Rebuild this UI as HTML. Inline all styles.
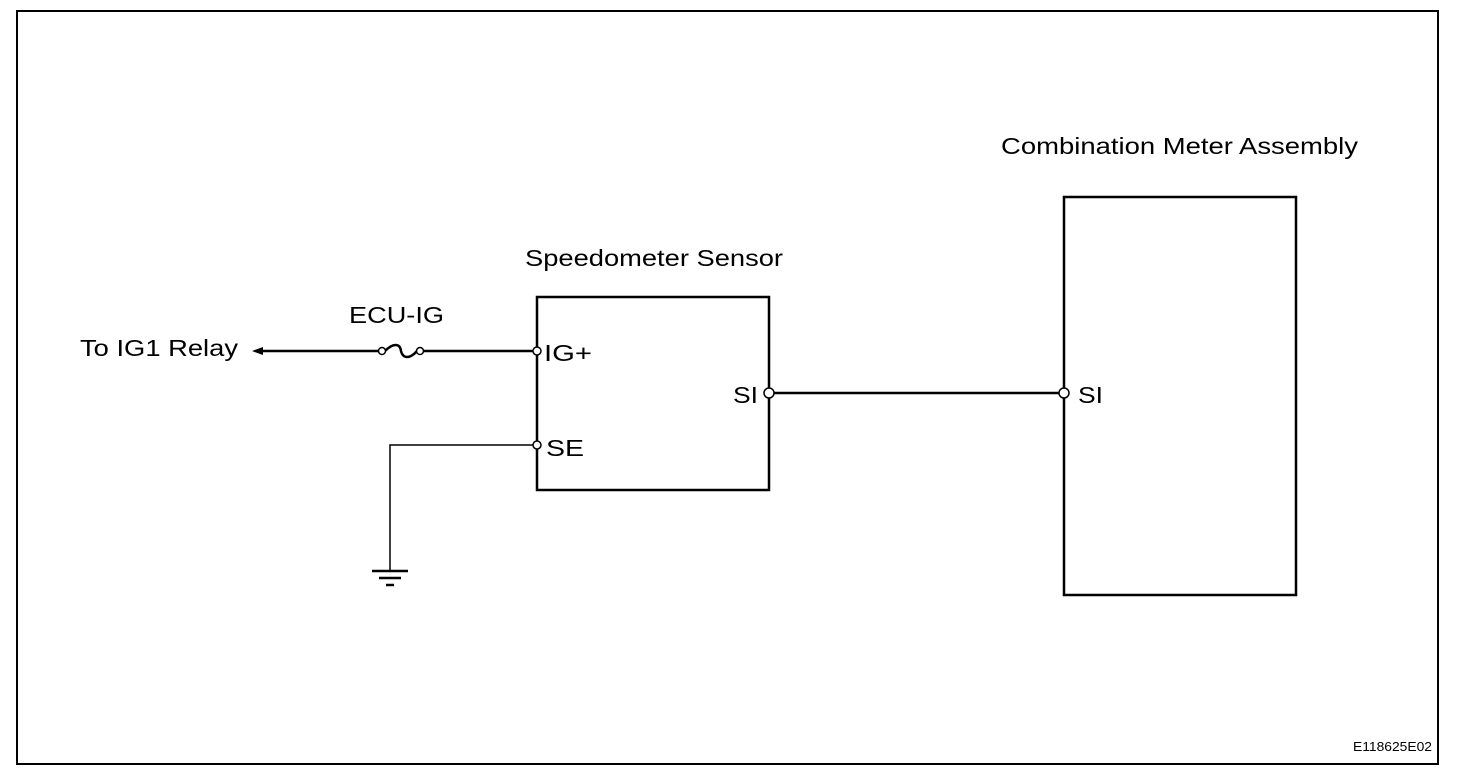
<!DOCTYPE html>
<html><head><meta charset="utf-8"><style>
html,body{margin:0;padding:0;background:#fff;}
svg{display:block;}
text{font-family:"Liberation Sans",Arial,sans-serif;fill:#000;}
</style></head><body>
<svg width="1472" height="784" viewBox="0 0 1472 784" xmlns="http://www.w3.org/2000/svg">
<rect x="17" y="11" width="1421" height="753" fill="none" stroke="#000" stroke-width="2"/>
<rect x="537" y="297" width="232" height="193" fill="none" stroke="#000" stroke-width="2.5"/>
<rect x="1064" y="197" width="232" height="398" fill="none" stroke="#000" stroke-width="2.5"/>
<line x1="258" y1="351" x2="378" y2="351" stroke="#000" stroke-width="2.5"/>
<line x1="424" y1="351" x2="534" y2="351" stroke="#000" stroke-width="2.5"/>
<polygon points="252,351 263,347 263,355" fill="#000"/>
<path d="M385,351 C393,343 400,343 401,351 C403,359 410,359 417,351" fill="none" stroke="#000" stroke-width="2.5"/>
<circle cx="382" cy="351" r="3.5" fill="#fff" stroke="#000" stroke-width="1.5"/>
<circle cx="420" cy="351" r="3.5" fill="#fff" stroke="#000" stroke-width="1.5"/>
<circle cx="537" cy="351" r="4" fill="#fff" stroke="#000" stroke-width="1.5"/>
<polyline points="533,445 390,445 390,571" fill="none" stroke="#000" stroke-width="1.5"/>
<line x1="372" y1="571" x2="408" y2="571" stroke="#000" stroke-width="2.5"/>
<line x1="379" y1="578" x2="401" y2="578" stroke="#000" stroke-width="2.5"/>
<line x1="386" y1="585" x2="394" y2="585" stroke="#000" stroke-width="2.5"/>
<circle cx="537" cy="445" r="4" fill="#fff" stroke="#000" stroke-width="1.5"/>
<line x1="773" y1="393" x2="1060" y2="393" stroke="#000" stroke-width="2.5"/>
<circle cx="769" cy="393" r="5" fill="#fff" stroke="#000" stroke-width="1.5"/>
<circle cx="1064" cy="393" r="5" fill="#fff" stroke="#000" stroke-width="1.5"/>
<text x="80" y="356" font-size="23" textLength="158" lengthAdjust="spacingAndGlyphs">To IG1 Relay</text>
<text x="349" y="323" font-size="23" textLength="95" lengthAdjust="spacingAndGlyphs">ECU-IG</text>
<text x="544" y="361" font-size="23" textLength="48" lengthAdjust="spacingAndGlyphs">IG+</text>
<text x="546" y="456" font-size="23" textLength="38" lengthAdjust="spacingAndGlyphs">SE</text>
<text x="733" y="403" font-size="23" textLength="25" lengthAdjust="spacingAndGlyphs">SI</text>
<text x="1078" y="403" font-size="23" textLength="25" lengthAdjust="spacingAndGlyphs">SI</text>
<text x="525" y="266" font-size="23" textLength="258" lengthAdjust="spacingAndGlyphs">Speedometer Sensor</text>
<text x="1001" y="154" font-size="23" textLength="357" lengthAdjust="spacingAndGlyphs">Combination Meter Assembly</text>
<text x="1353" y="751" font-size="13" textLength="79" lengthAdjust="spacingAndGlyphs">E118625E02</text>
</svg>
</body></html>
